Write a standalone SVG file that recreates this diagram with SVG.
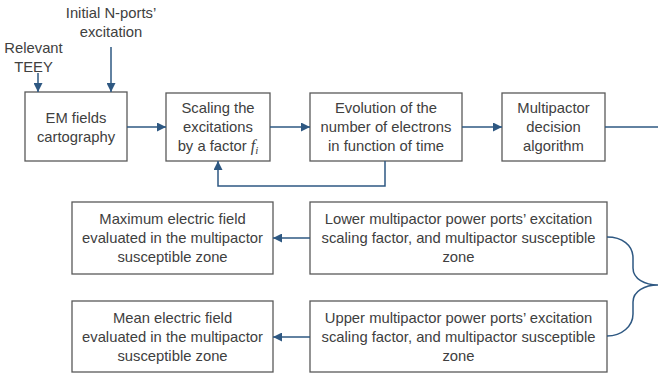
<svg xmlns="http://www.w3.org/2000/svg" width="658" height="374" viewBox="0 0 658 374">
<defs>
<style>
.box{fill:#fff;stroke:#595959;stroke-width:1.3}
.t{font-family:"Liberation Sans",Arial,sans-serif;font-size:14.8px;fill:#404040;text-anchor:middle}
.c{fill:none;stroke:#2E5882;stroke-width:1.5}
.m{font-family:"Liberation Serif","Times New Roman",serif;font-style:italic}
</style>
<marker id="a" viewBox="0 0 10 10" refX="10" refY="5" markerWidth="9" markerHeight="9" orient="auto" markerUnits="userSpaceOnUse">
<path d="M0,0 L10,5 L0,10 z" fill="#2E5882"/>
</marker>
</defs>
<rect width="658" height="374" fill="#fff"/>
<g id="labels">
<text class="t" x="33.5" y="53">Relevant</text>
<text class="t" x="33.5" y="72">TEEY</text>
<text class="t" x="111" y="18">Initial N-ports’</text>
<text class="t" x="111" y="37">excitation</text>
</g>
<g id="em">
<rect class="box" x="25" y="92" width="102" height="69"/>
<text class="t" x="76" y="123">EM fields</text>
<text class="t" x="76" y="142">cartography</text>
</g>
<g id="scaling">
<rect class="box" x="166" y="93" width="104" height="68"/>
<text class="t" x="218" y="113">Scaling the</text>
<text class="t" x="218" y="132">excitations</text>
<text class="t" x="218" y="151">by a factor <tspan class="m" font-size="16">f</tspan><tspan class="m" font-size="11" dy="3">i</tspan></text>
</g>
<g id="evolution">
<rect class="box" x="310" y="93" width="152" height="68"/>
<text class="t" x="386" y="113">Evolution of the</text>
<text class="t" x="386" y="132">number of electrons</text>
<text class="t" x="386" y="151">in function of time</text>
</g>
<g id="decision">
<rect class="box" x="502" y="93" width="103" height="68"/>
<text class="t" x="553.5" y="113">Multipactor</text>
<text class="t" x="553.5" y="132">decision</text>
<text class="t" x="553.5" y="151">algorithm</text>
</g>
<g id="maxfield">
<rect class="box" x="72" y="202" width="201" height="72"/>
<text class="t" x="172.5" y="224">Maximum electric field</text>
<text class="t" x="172.5" y="243">evaluated in the multipactor</text>
<text class="t" x="172.5" y="262">susceptible zone</text>
</g>
<g id="lower">
<rect class="box" x="310" y="202" width="297" height="72"/>
<text class="t" x="458.5" y="224">Lower multipactor power ports’ excitation</text>
<text class="t" x="458.5" y="243">scaling factor, and multipactor susceptible</text>
<text class="t" x="458.5" y="262">zone</text>
</g>
<g id="meanfield">
<rect class="box" x="72" y="301" width="201" height="71"/>
<text class="t" x="172.5" y="323">Mean electric field</text>
<text class="t" x="172.5" y="342">evaluated in the multipactor</text>
<text class="t" x="172.5" y="361">susceptible zone</text>
</g>
<g id="upper">
<rect class="box" x="310" y="301" width="297" height="71"/>
<text class="t" x="458.5" y="323">Upper multipactor power ports’ excitation</text>
<text class="t" x="458.5" y="342">scaling factor, and multipactor susceptible</text>
<text class="t" x="458.5" y="361">zone</text>
</g>
<g id="connectors">
<path class="c" d="M38,73 V92" marker-end="url(#a)"/>
<path class="c" d="M111,47 V92" marker-end="url(#a)"/>
<path class="c" d="M127,127 H166" marker-end="url(#a)"/>
<path class="c" d="M270,127 H310" marker-end="url(#a)"/>
<path class="c" d="M462,127 H502" marker-end="url(#a)"/>
<path class="c" d="M605,127 H658"/>
<path class="c" d="M385,161 V186 H218 V161" marker-end="url(#a)"/>
<path class="c" d="M310,238 H273" marker-end="url(#a)"/>
<path class="c" d="M310,337 H273" marker-end="url(#a)"/>
<path class="c" d="M607,237 C622,237 633,245 633,258 V268 C633,279 645,285 658,285 C645,285 633,291 633,302 V314 C633,326 622,336 607,336"/>
</g>
</svg>
